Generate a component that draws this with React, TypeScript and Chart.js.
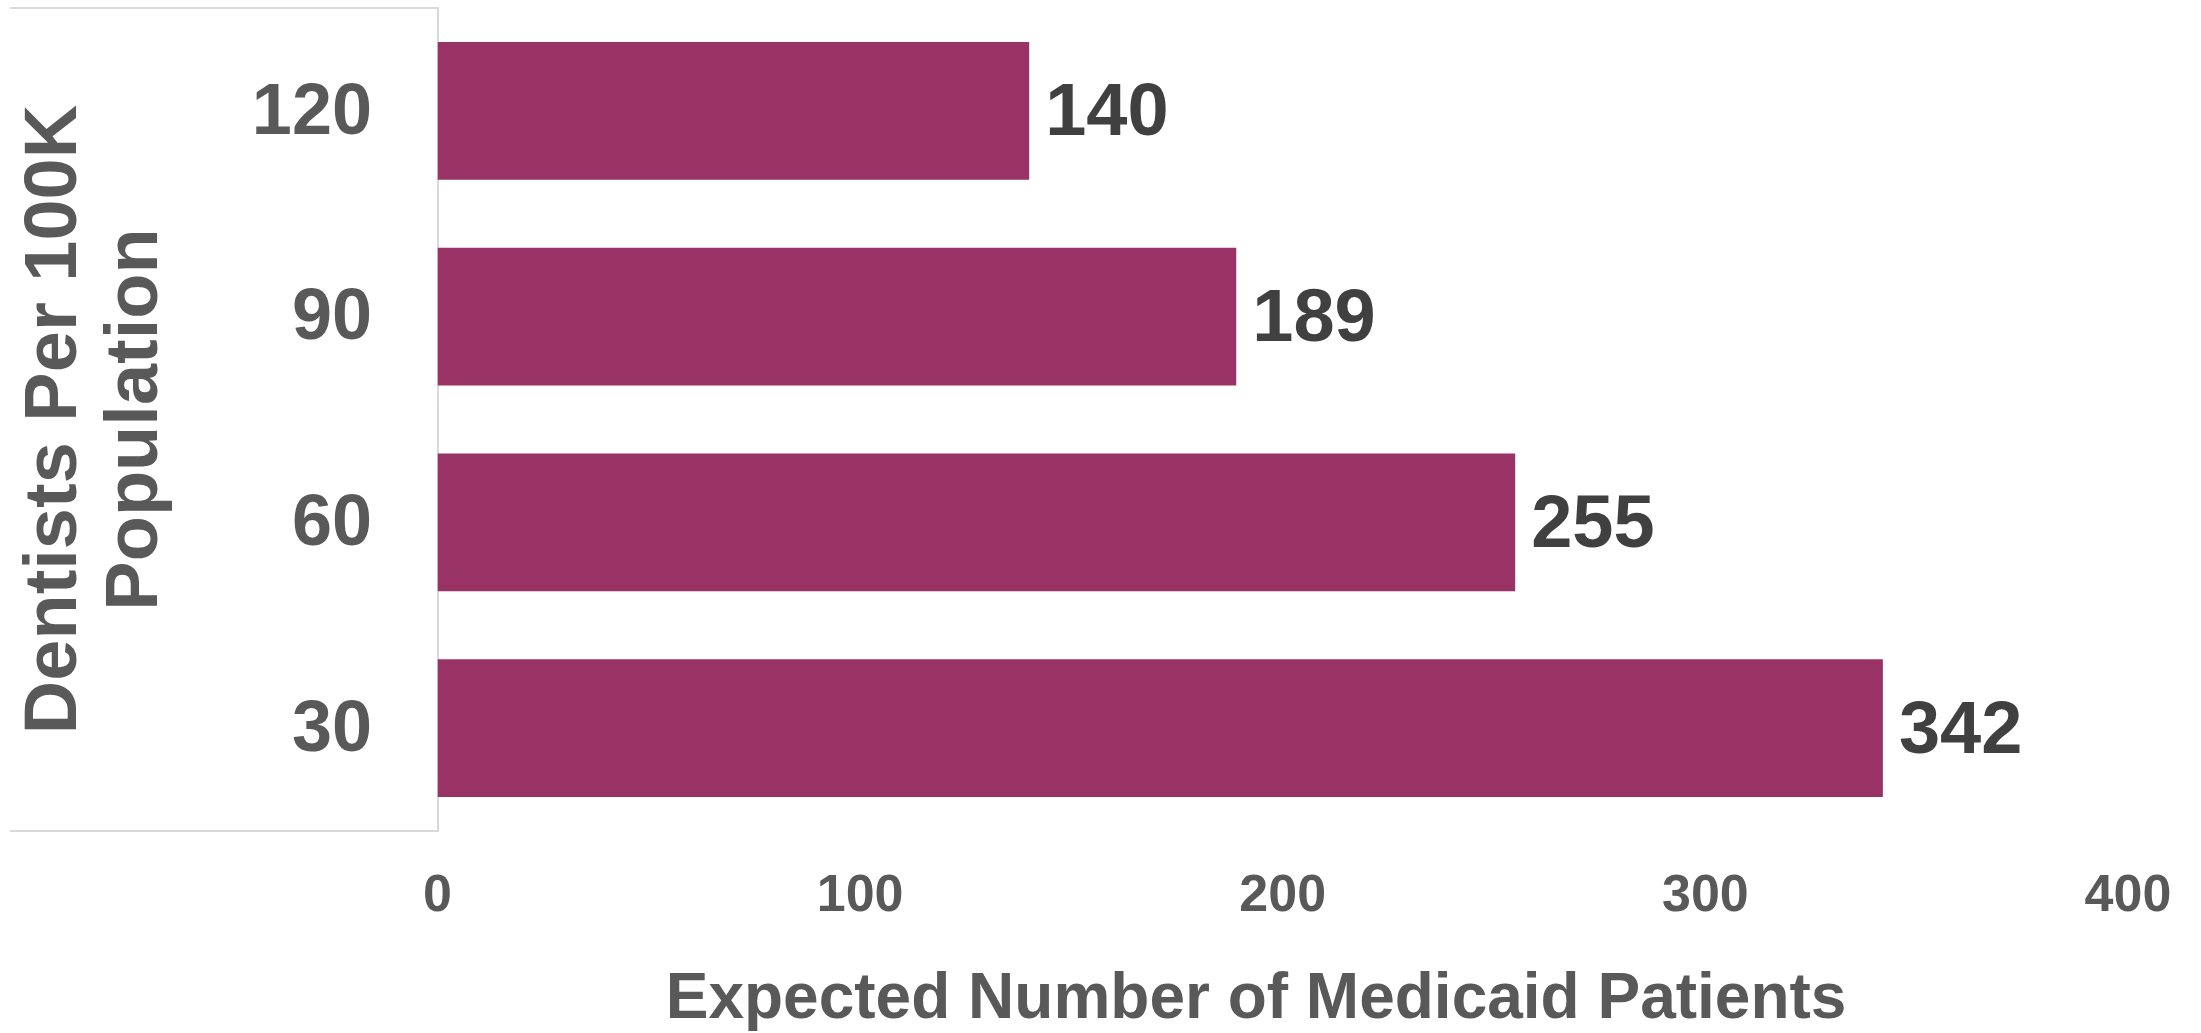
import React, { useEffect, useRef } from 'react';
import { Chart, registerables } from 'chart.js';

Chart.register(...registerables);

// ---- data ----
const categories = ['120', '90', '60', '30'];
const patients = [140, 189, 255, 342];
const xTicks = [0, 100, 200, 300, 400];
const xTitle = 'Expected Number of Medicaid Patients';
const yTitle = ['Dentists Per 100K', 'Population'];

const FONT = "'Liberation Sans', Arial, Helvetica, sans-serif";
const BAR_COLOR = '#993366';
const AXIS_TEXT = '#595959';
const LABEL_TEXT = '#404040';
const FRAME = '#d9d9d9';

const framePlugin = {
  id: 'labelFrame',
  afterDraw(chart: any) {
    const { ctx, chartArea } = chart;
    ctx.save();
    ctx.strokeStyle = FRAME;
    ctx.lineWidth = 2;
    ctx.beginPath();
    ctx.moveTo(10, chartArea.top);
    ctx.lineTo(chartArea.left, chartArea.top);
    ctx.moveTo(10, chartArea.bottom);
    ctx.lineTo(chartArea.left, chartArea.bottom);
    ctx.stroke();
    ctx.restore();
  },
};

const valueLabelPlugin = {
  id: 'valueLabels',
  afterDatasetsDraw(chart: any) {
    const { ctx } = chart;
    const meta = chart.getDatasetMeta(0);
    ctx.save();
    ctx.font = `bold 74px ${FONT}`;
    ctx.fillStyle = LABEL_TEXT;
    ctx.textAlign = 'left';
    ctx.textBaseline = 'middle';
    meta.data.forEach((bar: any, i: number) => {
      ctx.fillText(String(patients[i]), bar.x + 16, bar.y + 4);
    });
    ctx.restore();
  },
};

export default function App() {
  const canvasRef = useRef<HTMLCanvasElement | null>(null);

  useEffect(() => {
    if (!canvasRef.current) return;
    const chart = new Chart(canvasRef.current, {
      type: 'bar',
      data: {
        labels: categories,
        datasets: [
          {
            data: patients,
            backgroundColor: BAR_COLOR,
            borderWidth: 0,
            barPercentage: 0.67,
            categoryPercentage: 1,
          },
        ],
      },
      options: {
        indexAxis: 'y',
        animation: false,
        responsive: false,
        maintainAspectRatio: false,
        devicePixelRatio: 1,
        layout: { padding: { top: 8, right: 73, bottom: 0, left: 0 } },
        plugins: {
          legend: { display: false },
          tooltip: { enabled: false },
        },
        scales: {
          x: {
            type: 'linear',
            min: 0,
            max: 400,
            afterBuildTicks: (scale: any) => {
              scale.ticks = xTicks.map((v) => ({ value: v }));
            },
            afterFit: (scale: any) => {
              scale.height = 202;
              scale.paddingLeft = 0;
              scale.paddingRight = 0;
            },
            grid: { display: false, drawTicks: false },
            border: { display: false },
            ticks: {
              color: AXIS_TEXT,
              padding: 34,
              maxRotation: 0,
              font: { family: FONT, size: 52, weight: 'bold', lineHeight: 1.2 },
            },
            title: {
              display: true,
              text: xTitle + '\u00A0\u00A0\u00A0',
              color: AXIS_TEXT,
              padding: { top: 8, bottom: 1 },
              font: { family: FONT, size: 64, weight: 'bold', lineHeight: 1.0 },
            },
          },
          y: {
            type: 'category',
            afterFit: (scale: any) => {
              scale.width = 437.5;
              scale.paddingTop = 0;
              scale.paddingBottom = 0;
            },
            grid: { display: false, drawTicks: false },
            border: { display: true, color: FRAME, width: 2 },
            ticks: {
              color: AXIS_TEXT,
              padding: 65.5,
              labelOffset: 3,
              font: { family: FONT, size: 72, weight: 'bold', lineHeight: 1.2 },
            },
            title: {
              display: true,
              text: yTitle,
              color: AXIS_TEXT,
              padding: { top: 15, bottom: 10 },
              font: { family: FONT, size: 74, weight: 'bold', lineHeight: 1.095 },
            },
          },
        },
      },
      plugins: [framePlugin, valueLabelPlugin],
    } as any);
    return () => chart.destroy();
  }, []);

  return (
    <div style={{ position: 'fixed', left: 0, top: 0, width: 2201, height: 1033, background: '#ffffff' }}>
      <canvas ref={canvasRef} width={2201} height={1033} style={{ width: 2201, height: 1033, display: 'block' }} />
    </div>
  );
}
